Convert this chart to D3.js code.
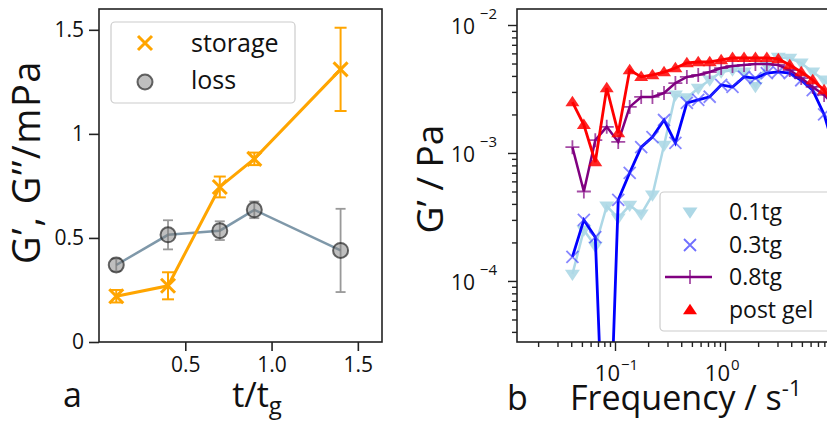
<!DOCTYPE html>
<html><head><meta charset="utf-8">
<script src="https://cdn.jsdelivr.net/npm/d3@7"></script>
<style>body{margin:0;background:#fff}svg{display:block}text{font-family:"Open Sans",sans-serif;fill:#111}</style>
</head><body><svg id="c" width="827" height="425"></svg>
<script>
// ---- panel a data ----
const tValues = [0.1, 0.4, 0.7, 0.9, 1.4];
const storage = [0.22, 0.27, 0.745, 0.88, 1.31];
const storageErr = [0.03, 0.065, 0.05, 0.03, 0.2];
const loss = [0.37, 0.515, 0.535, 0.635, 0.44];
const lossErr = [0.03, 0.07, 0.045, 0.04, 0.2];
const aYTicks = [0, 0.5, 1, 1.5];
const aYTickLabels = ["0", "0.5", "1", "1.5"];
const aXTicks = [0.5, 1.0, 1.5];
const aXTickLabels = ["0.5", "1.0", "1.5"];

// ---- panel b data ----
const freq = [0.041, 0.0521, 0.0662, 0.0841, 0.107, 0.136, 0.173, 0.219, 0.279, 0.354, 0.45, 0.571, 0.726, 0.923, 1.17, 1.49, 1.89, 2.40, 3.05, 3.88, 4.93, 6.27, 7.96, 10.1, 12.9];
const g01 = [1.13e-4, 2.5e-4, 1.87e-4, 3.85e-4, 3.1e-4, 3.9e-4, 3.33e-4, 4.7e-4, 1.15e-3, 2.84e-3, 2.7e-3, 3.2e-3, 3.72e-3, 4.29e-3, 4.45e-3, 4.3e-3, 3.3e-3, 4.8e-3, 5.6e-3, 5.5e-3, 5.05e-3, 4.29e-3, 3.72e-3, 3.0e-3, 2.2e-3];
const g03 = [1.54e-4, 3.0e-4, 2.2e-4, 1e-6, 4.3e-4, 7.0e-4, 1.11e-3, 1.33e-3, 1.81e-3, 1.2e-3, 2.46e-3, 2.6e-3, 2.75e-3, 3.4e-3, 3.28e-3, 3.93e-3, 3.85e-3, 4.2e-3, 4.3e-3, 4.2e-3, 3.7e-3, 3.1e-3, 2.0e-3, 1.0e-3, 5e-4];
const g08 = [1.11e-3, 5.0e-4, 1.26e-3, 1.6e-3, 1.22e-3, 2.29e-3, 2.74e-3, 2.74e-3, 2.94e-3, 3.52e-3, 3.93e-3, 4.07e-3, 4.29e-3, 4.61e-3, 4.79e-3, 4.87e-3, 4.96e-3, 4.96e-3, 4.87e-3, 4.45e-3, 3.85e-3, 3.28e-3, 2.84e-3, 2.3e-3, 1.8e-3];
const gPost = [2.5e-3, 1.66e-3, 8.5e-4, 3.22e-3, 1.43e-3, 4.45e-3, 3.93e-3, 4.07e-3, 4.29e-3, 4.61e-3, 5.05e-3, 5.14e-3, 5.14e-3, 5.33e-3, 5.53e-3, 5.53e-3, 5.53e-3, 5.53e-3, 5.43e-3, 4.87e-3, 4.29e-3, 3.72e-3, 3.1e-3, 2.2e-3, 1.5e-3];
const bSeriesNames = ["0.1tg", "0.3tg", "0.8tg", "post gel"];
const bYTicks = [1e-4, 1e-3, 1e-2];
const bYTickExp = ["−4", "−3", "−2"];
const bXTicks = [0.1, 1];
const bXTickExp = ["−1", "0"];

const svg = d3.select("#c");

// ================= Panel a =================
const ax = d3.scaleLinear().domain([0, 1.64]).range([99, 382]);
const ay = d3.scaleLinear().domain([0, 1.6]).range([342, 9]);

const ga = svg.append("g");
const lossColor = "#5f7e93";
ga.append("path").datum(tValues.map((t, i) => [t, loss[i]]))
  .attr("d", d3.line().x(d => ax(d[0])).y(d => ay(d[1])))
  .attr("fill", "none").attr("stroke", lossColor).attr("stroke-width", 2.5).attr("opacity", 0.8);
tValues.forEach((t, i) => {
  const x = ax(t), y1 = ay(loss[i] - lossErr[i]), y2 = ay(loss[i] + lossErr[i]);
  const e = ga.append("g").attr("stroke", "#777").attr("stroke-width", 1.8).attr("opacity", 0.75);
  e.append("line").attr("x1", x).attr("x2", x).attr("y1", y1).attr("y2", y2);
  e.append("line").attr("x1", x - 5).attr("x2", x + 5).attr("y1", y1).attr("y2", y1);
  e.append("line").attr("x1", x - 5).attr("x2", x + 5).attr("y1", y2).attr("y2", y2);
});
ga.selectAll(".lossm").data(tValues).join("circle")
  .attr("cx", d => ax(d)).attr("cy", (d, i) => ay(loss[i])).attr("r", 7.5)
  .attr("fill", "rgba(128,128,128,0.5)").attr("stroke", "rgba(40,40,40,0.7)").attr("stroke-width", 2);

const orange = "#FFA500";
ga.append("path").datum(tValues.map((t, i) => [t, storage[i]]))
  .attr("d", d3.line().x(d => ax(d[0])).y(d => ay(d[1])))
  .attr("fill", "none").attr("stroke", orange).attr("stroke-width", 3);
tValues.forEach((t, i) => {
  const x = ax(t), y1 = ay(storage[i] - storageErr[i]), y2 = ay(storage[i] + storageErr[i]);
  const e = ga.append("g").attr("stroke", orange).attr("stroke-width", 2);
  e.append("line").attr("x1", x).attr("x2", x).attr("y1", y1).attr("y2", y2);
  e.append("line").attr("x1", x - 6).attr("x2", x + 6).attr("y1", y1).attr("y2", y1);
  e.append("line").attr("x1", x - 6).attr("x2", x + 6).attr("y1", y2).attr("y2", y2);
});
const xMark = s => `M${-s},${-s}L${s},${s}M${-s},${s}L${s},${-s}`;
ga.selectAll(".stm").data(tValues).join("path")
  .attr("transform", (d, i) => `translate(${ax(d)},${ay(storage[i])})`)
  .attr("d", xMark(7)).attr("stroke", orange).attr("stroke-width", 3).attr("fill", "none");

ga.append("rect").attr("x", 99).attr("y", 9).attr("width", 283).attr("height", 333)
  .attr("fill", "none").attr("stroke", "#222").attr("stroke-width", 1.6);
const ayAxis = d3.axisLeft(ay).tickValues(aYTicks).tickFormat((d, i) => aYTickLabels[i]).tickSize(10).tickPadding(5);
const gay = ga.append("g").attr("transform", "translate(99,0)").call(ayAxis);
const axAxis = d3.axisBottom(ax).tickValues(aXTicks).tickFormat((d, i) => aXTickLabels[i]).tickSize(9).tickPadding(6);
const gax = ga.append("g").attr("transform", "translate(0,342)").call(axAxis);
[gay, gax].forEach(g => {
  g.select(".domain").remove();
  g.selectAll("line").attr("stroke", "#222").attr("stroke-width", 1.6);
  g.selectAll("text").attr("font-size", 21).attr("font-family", '"Open Sans",sans-serif').attr("fill", "#111");
});

// legend a
const la = ga.append("g");
la.append("rect").attr("x", 111).attr("y", 22).attr("width", 184).attr("height", 81).attr("rx", 4)
  .attr("fill", "rgba(255,255,255,0.8)").attr("stroke", "#ccc").attr("stroke-width", 1.2);
la.append("path").attr("transform", "translate(145,43)").attr("d", xMark(7)).attr("stroke", orange).attr("stroke-width", 3);
la.append("circle").attr("cx", 145).attr("cy", 82).attr("r", 7.5)
  .attr("fill", "rgba(128,128,128,0.5)").attr("stroke", "rgba(40,40,40,0.7)").attr("stroke-width", 2);
la.append("text").attr("x", 191).attr("y", 43).attr("dy", "0.35em").attr("font-size", 25).text("storage");
la.append("text").attr("x", 191).attr("y", 80).attr("dy", "0.35em").attr("font-size", 25).text("loss");

// labels a
ga.append("text").attr("transform", "translate(40,162) rotate(-90)").attr("text-anchor", "middle")
  .attr("font-size", 38).attr("letter-spacing", 1.5).text("G’, G’’/mPa");
const xl = ga.append("text").attr("x", 257).attr("y", 407).attr("text-anchor", "middle").attr("font-size", 34);
xl.append("tspan").text("t/t");
xl.append("tspan").attr("font-size", 24).attr("dy", 7).text("g");
ga.append("text").attr("x", 63).attr("y", 407).attr("font-size", 34).text("a");

// ================= Panel b =================
const bx = d3.scaleLog().domain([Math.pow(10, -1.891), Math.pow(10, 1.4)]).range([517, 879]);
const by = d3.scaleLog().domain([Math.pow(10, -4.477), Math.pow(10, -1.875)]).range([342, 9]);
const gb = svg.append("g");
svg.append("defs").append("clipPath").attr("id", "clipb")
  .append("rect").attr("x", 517).attr("y", 9).attr("width", 362).attr("height", 333);
const plot = gb.append("g").attr("clip-path", "url(#clipb)");
const lineB = d3.line().x(d => bx(d[0])).y(d => by(d[1]));
const mk = arr => freq.map((f, i) => [f, arr[i]]);

const triDown = s => `M${-s},${-s * 0.6}L${s},${-s * 0.6}L0,${s * 0.9}Z`;
const triUp = s => `M${-s},${s * 0.6}L${s},${s * 0.6}L0,${-s * 0.9}Z`;
const plus = s => `M${-s},0L${s},0M0,${-s}L0,${s}`;

plot.append("path").datum(mk(g01)).attr("d", lineB).attr("fill", "none").attr("stroke", "#ADD8E6").attr("stroke-width", 2.5);
plot.selectAll(".m01").data(mk(g01)).join("path")
  .attr("transform", d => `translate(${bx(d[0])},${by(d[1])})`).attr("d", triDown(7.5)).attr("fill", "#ADD8E6").attr("opacity", 0.9);
plot.append("path").datum(mk(g03)).attr("d", lineB).attr("fill", "none").attr("stroke", "#0000FF").attr("stroke-width", 2.8);
plot.selectAll(".m03").data(mk(g03)).join("path")
  .attr("transform", d => `translate(${bx(d[0])},${by(d[1])})`).attr("d", xMark(6)).attr("stroke", "#3333ff").attr("stroke-width", 1.8).attr("opacity", 0.6).attr("fill", "none");
plot.append("path").datum(mk(g08)).attr("d", lineB).attr("fill", "none").attr("stroke", "#800080").attr("stroke-width", 2.5);
plot.selectAll(".m08").data(mk(g08)).join("path")
  .attr("transform", d => `translate(${bx(d[0])},${by(d[1])})`).attr("d", plus(7)).attr("stroke", "#800080").attr("stroke-width", 1.8).attr("opacity", 0.7);
plot.append("path").datum(mk(gPost)).attr("d", lineB).attr("fill", "none").attr("stroke", "#FF0000").attr("stroke-width", 2.8);
plot.selectAll(".mp").data(mk(gPost)).join("path")
  .attr("transform", d => `translate(${bx(d[0])},${by(d[1])})`).attr("d", triUp(7)).attr("fill", "#FF0000").attr("opacity", 0.85);

gb.append("rect").attr("x", 517).attr("y", 9).attr("width", 362).attr("height", 333)
  .attr("fill", "none").attr("stroke", "#222").attr("stroke-width", 1.6);

const yMinor = [];
for (let e = -5; e <= -2; e++) for (let m = 2; m <= 9; m++) { const v = m * Math.pow(10, e); if (v >= by.domain()[0] && v <= by.domain()[1]) yMinor.push(v); }
const byMinor = gb.append("g").attr("transform", "translate(517,0)").call(d3.axisLeft(by).tickValues(yMinor).tickFormat("").tickSize(5));
const byMajor = gb.append("g").attr("transform", "translate(517,0)").call(d3.axisLeft(by).tickValues(bYTicks).tickFormat("").tickSize(9));
const xMinor = [];
for (let e = -2; e <= 1; e++) for (let m = 2; m <= 9; m++) { const v = m * Math.pow(10, e); if (v >= bx.domain()[0] && v <= bx.domain()[1]) xMinor.push(v); }
const bxMinor = gb.append("g").attr("transform", "translate(0,342)").call(d3.axisBottom(bx).tickValues(xMinor).tickFormat("").tickSize(5));
const bxMajor = gb.append("g").attr("transform", "translate(0,342)").call(d3.axisBottom(bx).tickValues(bXTicks).tickFormat("").tickSize(9));
[byMinor, byMajor, bxMinor, bxMajor].forEach(g => {
  g.select(".domain").remove();
  g.selectAll("line").attr("stroke", "#222").attr("stroke-width", 1.4);
});
// tick labels: base "10" and exponent as adjacent texts
bYTicks.forEach((v, i) => {
  gb.append("text").attr("x", 497).attr("y", by(v) - 6).attr("text-anchor", "end").attr("font-size", 15).text(bYTickExp[i]);
  gb.append("text").attr("x", 475).attr("y", by(v)).attr("dy", "0.42em").attr("text-anchor", "end").attr("font-size", 21).text("10");
});
bXTicks.forEach((v, i) => {
  const cx = bx(v) - 3;
  gb.append("text").attr("x", cx + 8).attr("y", 381).attr("text-anchor", "end").attr("font-size", 22).text("10");
  gb.append("text").attr("x", cx + 9).attr("y", 370).attr("text-anchor", "start").attr("font-size", 15).text(bXTickExp[i]);
});

// legend b
const lb = gb.append("g");
lb.append("rect").attr("x", 660).attr("y", 192).attr("width", 180).attr("height", 139).attr("rx", 4)
  .attr("fill", "rgba(255,255,255,0.85)").attr("stroke", "#ccc").attr("stroke-width", 1.2);
const rowsY = [212, 245, 277, 310];
lb.append("path").attr("transform", `translate(690,${rowsY[0]})`).attr("d", triDown(7.5)).attr("fill", "#ADD8E6");
lb.append("path").attr("transform", `translate(690,${rowsY[1]})`).attr("d", xMark(6)).attr("stroke", "#3333ff").attr("stroke-width", 1.8).attr("opacity", 0.7);
lb.append("line").attr("x1", 665).attr("x2", 712).attr("y1", rowsY[2]).attr("y2", rowsY[2]).attr("stroke", "#800080").attr("stroke-width", 2.5);
lb.append("path").attr("transform", `translate(690,${rowsY[2]})`).attr("d", plus(7)).attr("stroke", "#800080").attr("stroke-width", 1.8).attr("opacity", 0.7);
lb.append("path").attr("transform", `translate(690,${rowsY[3]})`).attr("d", triUp(7)).attr("fill", "#FF0000");
bSeriesNames.forEach((n, i) => {
  lb.append("text").attr("x", 729).attr("y", rowsY[i]).attr("dy", "0.35em").attr("font-size", 23).text(n);
});

gb.append("text").attr("transform", "translate(443,179) rotate(-90)").attr("text-anchor", "middle")
  .attr("font-size", 37).text("G’ / Pa");
const fl = gb.append("text").attr("x", 570).attr("y", 410).attr("font-size", 34);
fl.append("tspan").text("Frequency / s");
fl.append("tspan").attr("font-size", 22).attr("dy", -14).text("-1");
gb.append("text").attr("x", 507).attr("y", 410).attr("font-size", 34).text("b");
</script></body></html>
